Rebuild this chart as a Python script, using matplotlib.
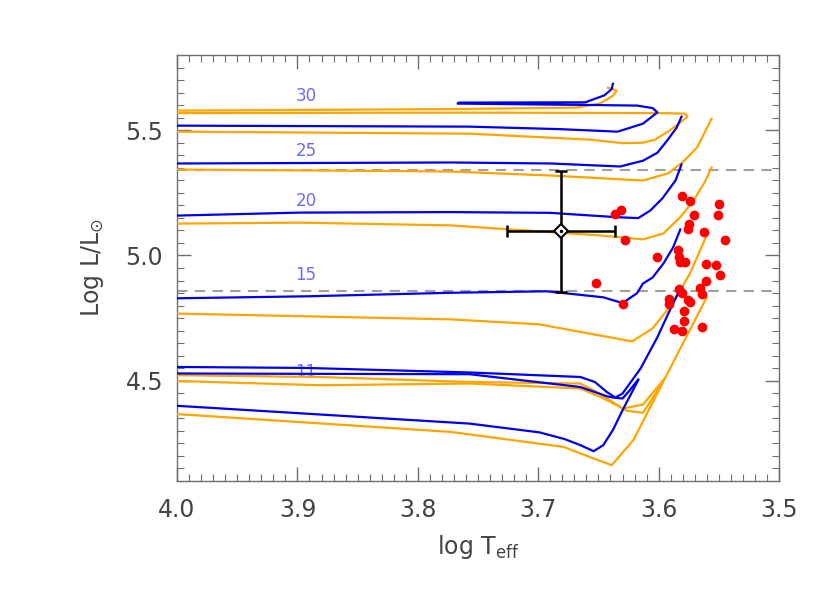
import numpy as np
import matplotlib.pyplot as plt
from matplotlib.ticker import MultipleLocator

# evolutionary tracks (log Teff, log L)
b30_x = [4.0, 3.757, 3.682, 3.634, 3.613, 3.601, 3.605, 3.618, 3.649, 3.767, 3.766, 3.661, 3.645, 3.639, 3.638]
b30_y = [5.518, 5.514, 5.504, 5.494, 5.526, 5.571, 5.588, 5.598, 5.600, 5.606, 5.610, 5.611, 5.639, 5.664, 5.685]
o30_x = [4.0, 3.757, 3.657, 3.630, 3.613, 3.603, 3.591, 3.580, 3.576, 3.578, 3.600, 3.757, 4.0, 4.05,
         4.05, 4.0, 3.773, 3.668, 3.649, 3.638, 3.635, 3.638, 3.642]
o30_y = [5.494, 5.486, 5.462, 5.448, 5.450, 5.462, 5.498, 5.538, 5.554, 5.566, 5.568, 5.570, 5.568, 5.567,
         5.580, 5.578, 5.584, 5.590, 5.606, 5.637, 5.657, 5.665, 5.669]

b25_x = [4.0, 3.773, 3.690, 3.632, 3.613, 3.601, 3.593, 3.585, 3.581]
b25_y = [5.367, 5.371, 5.367, 5.355, 5.378, 5.410, 5.458, 5.510, 5.554]
o25_x = [4.0, 3.773, 3.690, 3.613, 3.592, 3.580, 3.568, 3.556]
o25_y = [5.343, 5.335, 5.319, 5.299, 5.328, 5.372, 5.431, 5.546]

b20_x = [4.0, 3.898, 3.773, 3.690, 3.636, 3.617, 3.607, 3.597, 3.586, 3.581]
b20_y = [5.159, 5.171, 5.173, 5.170, 5.153, 5.149, 5.179, 5.227, 5.299, 5.363]
o20_x = [4.0, 3.898, 3.773, 3.649, 3.613, 3.596, 3.582, 3.571, 3.561, 3.556]
o20_y = [5.127, 5.131, 5.120, 5.080, 5.064, 5.088, 5.153, 5.219, 5.299, 5.351]

b15_x = [4.0, 3.892, 3.773, 3.693, 3.646, 3.630, 3.618, 3.613, 3.605, 3.596, 3.588, 3.582]
b15_y = [4.829, 4.837, 4.851, 4.857, 4.833, 4.810, 4.849, 4.888, 4.912, 4.968, 5.032, 5.104]
o15_x = [4.0, 3.773, 3.699, 3.622, 3.605, 3.593, 3.582, 3.574, 3.559]
o15_y = [4.768, 4.745, 4.725, 4.657, 4.709, 4.781, 4.861, 4.928, 5.092]

b11a_x = [4.0, 3.892, 3.757, 3.665, 3.653, 3.643, 3.636, 3.630, 3.615, 3.601, 3.592, 3.584]
b11a_y = [4.555, 4.551, 4.533, 4.515, 4.495, 4.455, 4.433, 4.449, 4.549, 4.674, 4.768, 4.847]
b11b_x = [4.0, 3.757, 3.665, 3.643, 3.638, 3.630, 3.624, 3.617]
b11b_y = [4.529, 4.526, 4.475, 4.438, 4.433, 4.429, 4.462, 4.505]
b9_x = [4.0, 3.757, 3.699, 3.678, 3.665, 3.654, 3.646, 3.638, 3.630, 3.617]
b9_y = [4.400, 4.329, 4.294, 4.267, 4.243, 4.219, 4.243, 4.303, 4.382, 4.502]

o11a_x = [4.0, 3.881, 3.757, 3.665, 3.649, 3.630, 3.613, 3.595]
o11a_y = [4.522, 4.515, 4.495, 4.489, 4.449, 4.389, 4.405, 4.509]
o11b_x = [4.0, 3.881, 3.757, 3.665, 3.646, 3.626, 3.613, 3.605, 3.595]
o11b_y = [4.499, 4.482, 4.489, 4.469, 4.430, 4.380, 4.372, 4.430, 4.509]
o9_x = [4.0, 3.773, 3.679, 3.665, 3.639, 3.621, 3.582, 3.560]
o9_y = [4.367, 4.296, 4.236, 4.210, 4.163, 4.263, 4.629, 4.833]

mass_labels = ['30', '25', '20', '15', '11']
label_y = [5.637, 5.418, 5.219, 4.920, 4.534]

# red supergiants
rsg_teff = [3.581, 3.574, 3.550, 3.631, 3.636, 3.571, 3.551, 3.575, 3.576, 3.562, 3.628, 3.545,
            3.584, 3.601, 3.583, 3.582, 3.578, 3.561, 3.552, 3.549, 3.561, 3.652, 3.583, 3.581,
            3.566, 3.564, 3.630, 3.591, 3.591, 3.576, 3.574, 3.579, 3.579, 3.587, 3.581, 3.564]
rsg_lum = [5.239, 5.219, 5.207, 5.183, 5.167, 5.163, 5.163, 5.124, 5.104, 5.092, 5.060, 5.060,
           5.020, 4.992, 4.992, 4.972, 4.972, 4.964, 4.960, 4.920, 4.900, 4.892, 4.865, 4.849,
           4.869, 4.845, 4.805, 4.825, 4.805, 4.821, 4.813, 4.777, 4.737, 4.705, 4.697, 4.713]

# the star with error bars
star_teff, star_lum = 3.681, 5.096
star_dteff, star_dlum = 0.045, 0.24
lum_lo, lum_hi = 4.857, 5.339

fig = plt.figure(figsize=(8.3, 5.93), dpi=100)
ax = fig.add_axes([0.2133, 0.1889, 0.7253, 0.7184])

blue = '#0000ee'
orange = '#ffa500'
lw = 1.6

for xs, ys in [(o30_x, o30_y), (o25_x, o25_y), (o20_x, o20_y), (o15_x, o15_y),
               (o11a_x, o11a_y), (o11b_x, o11b_y), (o9_x, o9_y)]:
    ax.plot(xs, ys, color=orange, lw=lw, zorder=3)
for xs, ys in [(b30_x, b30_y), (b25_x, b25_y), (b20_x, b20_y), (b15_x, b15_y),
               (b11a_x, b11a_y), (b11b_x, b11b_y), (b9_x, b9_y)]:
    ax.plot(xs, ys, color=blue, lw=lw, zorder=4)

for lab, ly in zip(mass_labels, label_y):
    ax.text(3.893, ly, lab, color='#6a6aff', fontsize=12, ha='center', va='center', zorder=1)

ax.axhline(lum_hi, color='#a0a0a0', lw=1.5, ls=(0, (5, 3.5)), zorder=2)
ax.axhline(lum_lo, color='#a0a0a0', lw=1.5, ls=(0, (5, 3.5)), zorder=2)

ax.plot(rsg_teff, rsg_lum, 'o', color='#ff0000', ms=7, mec='none', zorder=5)

ax.errorbar(star_teff, star_lum, xerr=star_dteff, yerr=star_dlum, fmt='none',
            ecolor='black', elinewidth=1.8, capsize=4, capthick=1.8, zorder=6)
ax.plot(star_teff, star_lum, 'D', ms=7, mfc='white', mec='black', mew=1.5, zorder=7)
ax.plot(star_teff, star_lum, '.', ms=3, color='black', zorder=8)

ax.set_xlim(4.0, 3.5)
ax.set_ylim(4.1, 5.8)
ax.xaxis.set_major_locator(MultipleLocator(0.1))
ax.xaxis.set_minor_locator(MultipleLocator(0.01))
ax.yaxis.set_major_locator(MultipleLocator(0.5))
ax.yaxis.set_minor_locator(MultipleLocator(0.05))
ax.xaxis.set_major_formatter(plt.FormatStrFormatter('%.1f'))
ax.yaxis.set_major_formatter(plt.FormatStrFormatter('%.1f'))

for s in ax.spines.values():
    s.set_color('#707070')
    s.set_linewidth(1.0)
ax.tick_params(which='both', direction='in', top=True, right=True, color='#707070')
ax.tick_params(which='major', length=10, width=1.0, labelsize=17, labelcolor='#444444')
ax.tick_params(which='minor', length=5, width=0.8)
ax.tick_params(axis='x', which='major', pad=12)
ax.tick_params(axis='y', which='major', pad=10)

ax.set_xlabel(r'log T$_{\rm eff}$', fontsize=17, color='#444444', labelpad=8)
ax.set_ylabel(r'Log L/L$_{\odot}$', fontsize=17, color='#444444', labelpad=14)

fig.savefig('out.png', dpi=100)
